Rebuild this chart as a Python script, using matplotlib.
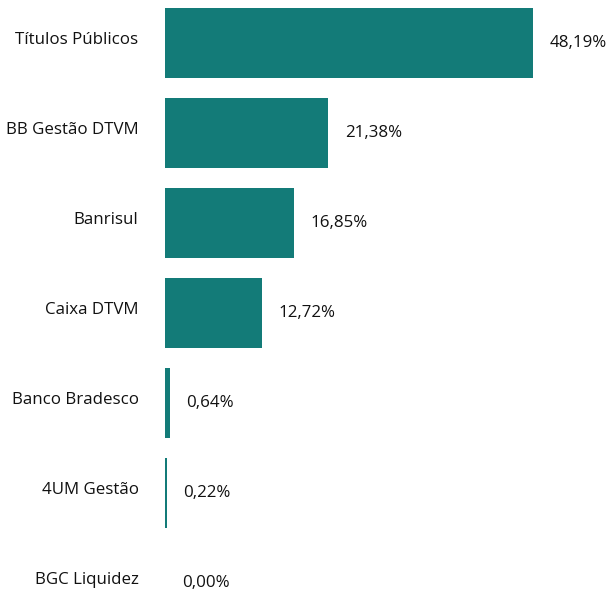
import matplotlib.pyplot as plt

categorias = ['Títulos Públicos', 'BB Gestão DTVM', 'Banrisul', 'Caixa DTVM',
              'Banco Bradesco', '4UM Gestão', 'BGC Liquidez']
valores = [48.19, 21.38, 16.85, 12.72, 0.64, 0.22, 0.00]

cor = '#137b78'
plt.rcParams['font.family'] = ['Open Sans', 'DejaVu Sans']

fig = plt.figure(figsize=(6.08, 5.90), dpi=100)
ax = fig.add_axes([165/608, 0, 1 - 165/608, 1])

pos = list(range(len(categorias)))
ax.barh(pos, valores, height=0.78, color=cor)

for i, v in enumerate(valores):
    txt = ('%.2f%%' % v).replace('.', ',')
    ax.annotate(txt, (v, i), xytext=(12, 0), textcoords='offset points',
                ha='left', va='center', fontsize=12.2, color='#111111')
    # category label at the left of the axis
    ax.annotate(categorias[i], (0, i), xytext=(-19, 2), textcoords='offset points',
                ha='right', va='center', fontsize=12.2, color='#111111')

ax.set_yticks([])
ax.set_xticks([])
ax.set_xlim(0, (608 - 165) / (368 / 48.19))
ax.set_ylim((590 - 43) / 90, -43 / 90)
for s in ax.spines.values():
    s.set_visible(False)

plt.savefig('out.png', dpi=100)
